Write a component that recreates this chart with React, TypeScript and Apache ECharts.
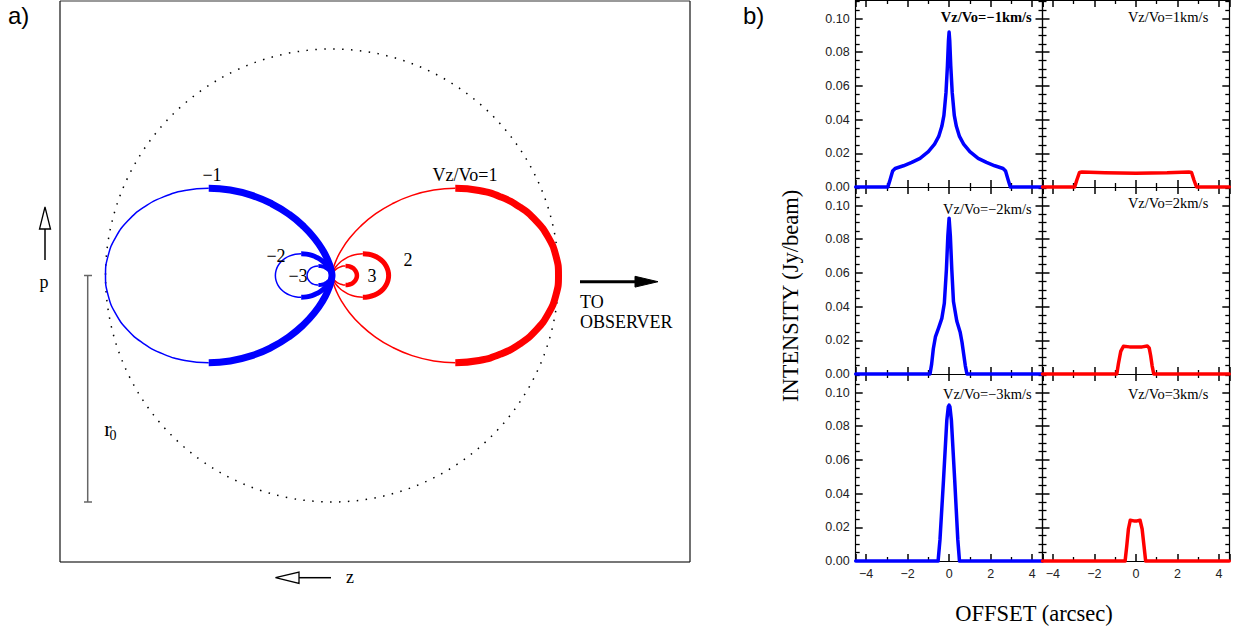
import React, { useEffect, useRef } from "react";
import * as echarts from "echarts";

// ---------- Panel a: contours of constant projected velocity ----------
// Upper half of the Vz/Vo = 1 contour, in units of r0 (z measured from the star, p = impact parameter).
// Outer arc: far tip of the loop up to its highest point.
const outerArcZ = [1, 0.9886, 0.9551, 0.9012, 0.8298, 0.7444, 0.6495, 0.5443];
const outerArcP = [0, 0.0865, 0.1684, 0.2415, 0.302, 0.3471, 0.375, 0.3849];
// Inner arc: highest point back in to the star.
const innerArcZ = [0.5443, 0.4495, 0.3536, 0.2656, 0.1887, 0.125, 0.0755, 0.04, 0.0173, 0.0052, 0.0007, 0];
const innerArcP = [0.3849, 0.3772, 0.3536, 0.3165, 0.2695, 0.2165, 0.1619, 0.1099, 0.0647, 0.0297, 0.0076, 0];

// Velocity ratios of the loops and their reach along z (units of r0)
const loopRatios = [-1, -2, -3, 1, 2, 3];
const loopReach = [1, 0.25, 0.11, 1, 0.25, 0.11];
const loopLabels = ["\u22121", "\u22122", "\u22123", "Vz/Vo=1", "2", "3"];

// ---------- Panel b: intensity profiles along the offset ----------
const panelTitles = [
  "Vz/Vo=\u22121km/s",
  "Vz/Vo=1km/s",
  "Vz/Vo=\u22122km/s",
  "Vz/Vo=2km/s",
  "Vz/Vo=\u22123km/s",
  "Vz/Vo=3km/s",
];

const offsetNeg1 = [-4.5, -2.95, -2.85, -2.72, -2.6, -2.2, -1.8, -1.4, -1.0, -0.7, -0.5, -0.35, -0.25, -0.15, -0.08, -0.03, 0, 0.03, 0.08, 0.15, 0.25, 0.35, 0.5, 0.7, 1.0, 1.4, 1.8, 2.2, 2.6, 2.72, 2.85, 2.95, 4.5];
const intensityNeg1 = [0, 0, 0.004, 0.0095, 0.011, 0.0126, 0.0146, 0.017, 0.021, 0.0255, 0.03, 0.036, 0.0425, 0.056, 0.072, 0.087, 0.092, 0.087, 0.072, 0.056, 0.0425, 0.036, 0.03, 0.0255, 0.021, 0.017, 0.0146, 0.0126, 0.011, 0.0095, 0.004, 0, 0];

const offsetPos1 = [-4.5, -2.95, -2.85, -2.72, -2.6, -1.5, 0, 1.5, 2.55, 2.68, 2.8, 2.92, 4.5];
const intensityPos1 = [0, 0, 0.004, 0.0086, 0.0089, 0.0084, 0.0081, 0.0084, 0.0089, 0.0086, 0.004, 0, 0];

const offsetNeg2 = [-4.5, -0.92, -0.84, -0.76, -0.66, -0.5, -0.35, -0.23, -0.13, -0.06, 0, 0.06, 0.13, 0.21, 0.37, 0.53, 0.62, 0.7, 0.78, 0.86, 4.5];
const intensityNeg2 = [0, 0, 0.006, 0.015, 0.022, 0.0275, 0.033, 0.042, 0.062, 0.082, 0.0925, 0.082, 0.062, 0.043, 0.0315, 0.025, 0.019, 0.012, 0.005, 0, 0];

const offsetPos2 = [-4.5, -0.92, -0.84, -0.73, -0.6, -0.3, 0, 0.3, 0.55, 0.64, 0.71, 0.78, 0.86, 4.5];
const intensityPos2 = [0, 0, 0.0063, 0.0134, 0.0165, 0.0161, 0.016, 0.0161, 0.0166, 0.0155, 0.011, 0.005, 0, 0];

const offsetNeg3 = [-4.5, -0.53, -0.44, -0.27, -0.11, -0.04, 0, 0.04, 0.11, 0.27, 0.42, 0.5, 4.5];
const intensityNeg3 = [0, 0, 0.0125, 0.048, 0.0836, 0.0915, 0.0925, 0.0915, 0.0836, 0.048, 0.0125, 0, 0];

const offsetPos3 = [-4.5, -0.52, -0.44, -0.36, -0.27, -0.1, 0.05, 0.2, 0.3, 0.39, 0.47, 4.5];
const intensityPos3 = [0, 0, 0.009, 0.019, 0.0242, 0.0238, 0.0238, 0.0242, 0.019, 0.009, 0, 0];

const profileOffsets = [offsetNeg1, offsetPos1, offsetNeg2, offsetPos2, offsetNeg3, offsetPos3];
const profileIntensities = [intensityNeg1, intensityPos1, intensityNeg2, intensityPos2, intensityNeg3, intensityPos3];

const offsetRange = [-4.5, 4.5];
const intensityRange = [0, 0.111];
const intensityStep = 0.02;

// ---------- styling / layout ----------
const SERIF = '"Liberation Serif", "Times New Roman", serif';
const SANS = '"Liberation Sans", Arial, sans-serif';
const BLUE = "#0000ff";
const RED = "#ff0000";

const A_BOX = { left: 60, top: 1, width: 630, height: 561 };
const STAR = { x: 332, y: 275.5 };
const R0_PX = 226.5;

const B_LEFT = 855.7;
const B_COL_W = 186.8;
const B_TOP = 0;
const B_ROW_H = 187;

const LOOP_THICK = [7, 5, 4, 7, 5, 4.5];
const LOOP_THIN = 1.5;
const LOOP_LABEL_POS = [
  [212, 175],
  [276, 256],
  [298, 276],
  [465, 175],
  [408, 260],
  [372, 276],
];
const TITLE_POS = [
  [1031.7, 17],
  [1208.3, 17],
  [1031.7, 209],
  [1208.3, 203],
  [1031.7, 394],
  [1208.3, 394],
];

const zip = (xs: number[], ys: number[]) => xs.map((x, i) => [x, ys[i]]);

function outerArc(sign: number, reach: number) {
  const pts: number[][] = [];
  for (let j = outerArcZ.length - 1; j >= 0; j--) pts.push([sign * reach * outerArcZ[j], -reach * outerArcP[j]]);
  for (let j = 1; j < outerArcZ.length; j++) pts.push([sign * reach * outerArcZ[j], reach * outerArcP[j]]);
  return pts;
}

function innerArc(sign: number, reach: number) {
  const pts: number[][] = [];
  for (let j = 0; j < innerArcZ.length; j++) pts.push([sign * reach * innerArcZ[j], reach * innerArcP[j]]);
  for (let j = innerArcZ.length - 2; j >= 0; j--) pts.push([sign * reach * innerArcZ[j], -reach * innerArcP[j]]);
  return pts;
}

function text(
  str: string,
  x: number,
  y: number,
  size: number,
  opts: { family?: string; weight?: string; align?: string; rotation?: number } = {}
) {
  const align = opts.align || "center";
  return {
    type: "text",
    x,
    y,
    rotation: opts.rotation || 0,
    silent: true,
    z: 10,
    style: {
      text: str,
      fill: "#000",
      fontSize: size,
      fontFamily: opts.family || SERIF,
      fontWeight: opts.weight || "normal",
      align,
      textAlign: align,
      verticalAlign: "middle",
      textVerticalAlign: "middle",
    },
  };
}

const line = (x1: number, y1: number, x2: number, y2: number, stroke: string, width: number) => ({
  type: "line",
  silent: true,
  z: 10,
  shape: { x1, y1, x2, y2 },
  style: { stroke, lineWidth: width },
});

function buildOption() {
  const grids: any[] = [];
  const xAxes: any[] = [];
  const yAxes: any[] = [];
  const series: any[] = [];

  const axisLine = () => ({ show: true, onZero: false, lineStyle: { color: "#000", width: 1.2 } });
  const axisTick = () => ({ show: true, inside: true, length: 7, lineStyle: { color: "#000", width: 1.5 } });
  const minorTick = (n: number) => ({
    show: true,
    splitNumber: n,
    length: 4,
    lineStyle: { color: "#000", width: 1.3 },
  });
  const fmtOffset = (v: number) => {
    if (Math.abs(v - Math.round(v)) > 1e-6 || Math.round(v) % 2 !== 0) return "";
    const r = Math.round(v);
    return r < 0 ? "\u2212" + Math.abs(r) : String(r);
  };
  const fmtIntensity = (v: number) => {
    const k = v / intensityStep;
    if (Math.abs(k - Math.round(k)) > 1e-6) return "";
    return v.toFixed(2);
  };

  // Panel b: six profile grids
  for (let i = 0; i < 6; i++) {
    const col = i % 2;
    const row = Math.floor(i / 2);
    grids.push({
      left: B_LEFT + col * B_COL_W,
      top: B_TOP + row * B_ROW_H,
      width: B_COL_W,
      height: B_ROW_H,
      containLabel: false,
      outerBoundsMode: "none",
    });
    const xBase = () => ({
      gridIndex: i,
      type: "value",
      min: offsetRange[0],
      max: offsetRange[1],
      splitNumber: 5,
      axisLine: axisLine(),
      axisTick: axisTick(),
      minorTick: minorTick(2),
      splitLine: { show: false },
    });
    xAxes.push({
      ...xBase(),
      position: "bottom",
      axisLabel: {
        show: row === 2,
        formatter: fmtOffset,
        fontFamily: SANS,
        fontSize: 12.5,
        color: "#222",
        margin: 6,
      },
    });
    xAxes.push({ ...xBase(), position: "top", axisLabel: { show: false } });
    const yBase = () => ({
      gridIndex: i,
      type: "value",
      min: intensityRange[0],
      max: intensityRange[1],
      interval: intensityStep,
      axisLine: axisLine(),
      axisTick: axisTick(),
      minorTick: minorTick(4),
      splitLine: { show: false },
    });
    yAxes.push({
      ...yBase(),
      position: "left",
      axisLabel: {
        show: col === 0,
        formatter: fmtIntensity,
        fontFamily: SANS,
        fontSize: 12.5,
        color: "#222",
        margin: 6,
      },
    });
    yAxes.push({ ...yBase(), position: "right", axisLabel: { show: false } });

    series.push({
      type: "line",
      xAxisIndex: 2 * i,
      yAxisIndex: 2 * i,
      data: zip(profileOffsets[i], profileIntensities[i]),
      symbol: "none",
      clip: false,
      silent: true,
      z: 5,
      lineStyle: { color: col === 0 ? BLUE : RED, width: 3.5, join: "round", cap: "round" },
    });
  }

  // Panel a: a single grid whose unit is r0, centred on the star
  const aIndex = 6;
  grids.push({ ...A_BOX, containLabel: false, outerBoundsMode: "none" });
  xAxes.push({
    gridIndex: aIndex,
    type: "value",
    min: (A_BOX.left - STAR.x) / R0_PX,
    max: (A_BOX.left + A_BOX.width - STAR.x) / R0_PX,
    show: false,
  });
  yAxes.push({
    gridIndex: aIndex,
    type: "value",
    min: -(A_BOX.top + A_BOX.height - STAR.y) / R0_PX,
    max: (STAR.y - A_BOX.top) / R0_PX,
    show: false,
  });

  const aAxis = 2 * 6;
  loopRatios.forEach((k, i) => {
    const sign = k < 0 ? -1 : 1;
    const color = k < 0 ? BLUE : RED;
    const reach = loopReach[i];
    // approaching gas is heavy near the star, receding gas on the far side
    const outerThick = k > 0;
    const base = {
      type: "line",
      xAxisIndex: aAxis,
      yAxisIndex: aAxis,
      symbol: "none",
      smooth: true,
      clip: false,
      silent: true,
    };
    series.push({
      ...base,
      z: outerThick ? 4 : 3,
      data: outerArc(sign, reach),
      lineStyle: { color, width: outerThick ? LOOP_THICK[i] : LOOP_THIN },
    });
    series.push({
      ...base,
      z: outerThick ? 3 : 4,
      data: innerArc(sign, reach),
      lineStyle: { color, width: outerThick ? LOOP_THIN : LOOP_THICK[i] },
    });
  });

  const graphic: any[] = [
    // frame of panel a
    line(A_BOX.left, A_BOX.top, A_BOX.left + A_BOX.width, A_BOX.top, "#777", 1.5),
    line(A_BOX.left, A_BOX.top + A_BOX.height, A_BOX.left + A_BOX.width, A_BOX.top + A_BOX.height, "#777", 2),
    line(A_BOX.left, A_BOX.top, A_BOX.left, A_BOX.top + A_BOX.height, "#111", 1.2),
    line(A_BOX.left + A_BOX.width, A_BOX.top, A_BOX.left + A_BOX.width, A_BOX.top + A_BOX.height, "#111", 1.2),
    // r0 circle
    {
      type: "circle",
      silent: true,
      z: 2,
      shape: { cx: STAR.x, cy: STAR.y, r: R0_PX },
      style: { fill: "none", stroke: "#000", lineWidth: 1.5, lineDash: [1.5, 7.4] },
    },
    // p arrow
    line(45, 260, 45, 229, "#000", 1.5),
    {
      type: "polygon",
      silent: true,
      z: 10,
      shape: { points: [[39.5, 229], [50.5, 229], [45, 207]] },
      style: { fill: "#fff", stroke: "#000", lineWidth: 1.3 },
    },
    text("p", 44, 282, 18),
    // r0 scale bar
    line(87.7, STAR.y, 87.7, STAR.y + R0_PX, "#666", 1.5),
    line(84, STAR.y, 92, STAR.y, "#666", 1.5),
    line(84, STAR.y + R0_PX, 92, STAR.y + R0_PX, "#666", 1.5),
    text("r", 108, 428, 22),
    text("0", 113, 435, 14),
    // z arrow
    line(299, 577.7, 331, 577.7, "#000", 1.5),
    {
      type: "polygon",
      silent: true,
      z: 10,
      shape: { points: [[299, 572], [299, 583.4], [275.5, 577.7]] },
      style: { fill: "#fff", stroke: "#000", lineWidth: 1.3 },
    },
    text("z", 350, 577, 18),
    // observer arrow
    line(580, 281.7, 637, 281.7, "#000", 3),
    {
      type: "polygon",
      silent: true,
      z: 10,
      shape: { points: [[635, 276.3], [635, 287.1], [658, 281.7]] },
      style: { fill: "#000", stroke: "#000", lineWidth: 1 },
    },
    text("TO", 580, 302, 18, { align: "left" }),
    text("OBSERVER", 580, 322, 18, { align: "left" }),
    // panel letters
    text("a)", 8, 15, 24, { family: SANS, align: "left" }),
    text("b)", 743, 15, 24, { family: SANS, align: "left" }),
    // axis names of panel b
    text("INTENSITY (Jy/beam)", 790, 296, 22.5, { rotation: Math.PI / 2 }),
    text("OFFSET (arcsec)", 1034, 613, 22.5),
  ];

  loopLabels.forEach((lab, i) => {
    graphic.push(text(lab, LOOP_LABEL_POS[i][0], LOOP_LABEL_POS[i][1], 18));
  });
  panelTitles.forEach((t, i) => {
    graphic.push(
      text(t, TITLE_POS[i][0], TITLE_POS[i][1], 14.5, { align: "right", weight: i === 0 ? "bold" : "normal" })
    );
  });

  return {
    animation: false,
    backgroundColor: "#fff",
    grid: grids,
    xAxis: xAxes,
    yAxis: yAxes,
    series,
    graphic,
  };
}

export default function App() {
  const ref = useRef<HTMLDivElement>(null);
  useEffect(() => {
    if (!ref.current) return;
    const chart = echarts.init(ref.current, null, { renderer: "svg" });
    chart.setOption(buildOption() as any);
    return () => chart.dispose();
  }, []);
  return (
    <div
      ref={ref}
      style={{ position: "fixed", left: 0, top: 0, width: 1246, height: 630, background: "#fff" }}
    />
  );
}
